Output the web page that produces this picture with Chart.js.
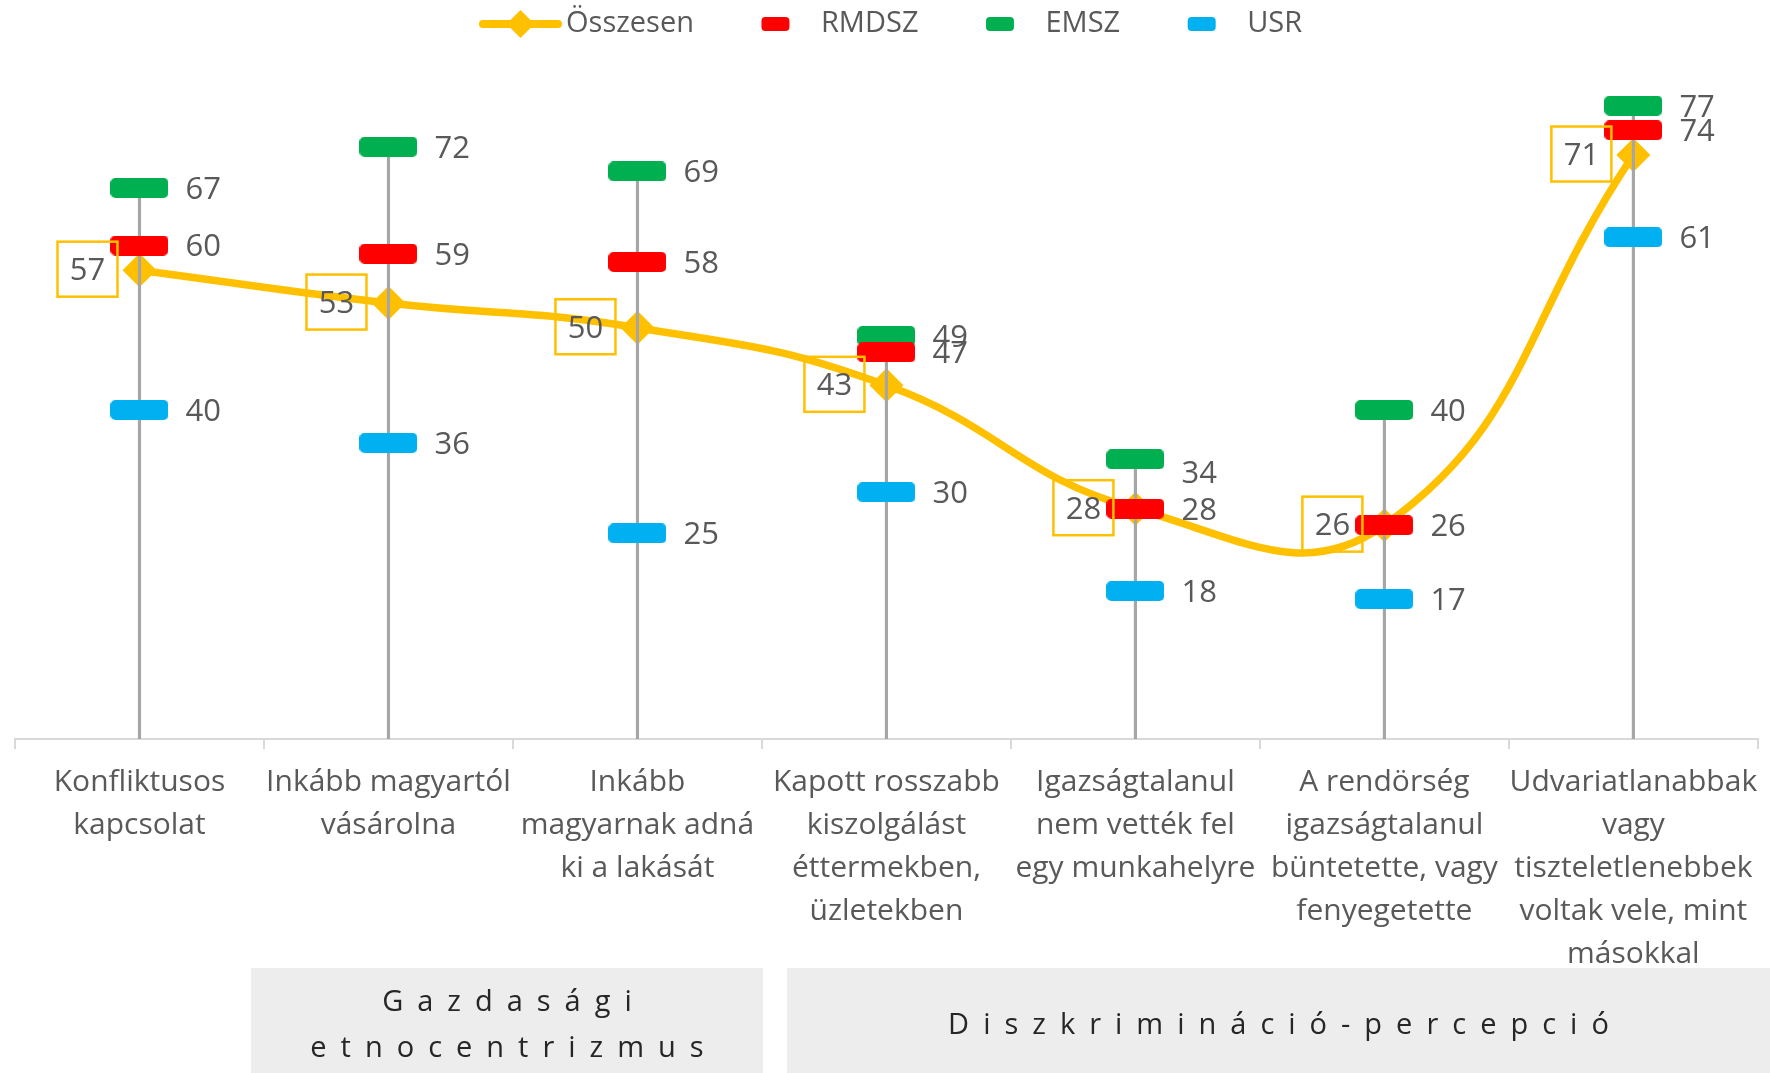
<!DOCTYPE html>
<html>
<head>
<meta charset="utf-8">
<script src="https://cdn.jsdelivr.net/npm/chart.js@4.4.1/dist/chart.umd.min.js"></script>
<style>
  html, body { margin: 0; padding: 0; background: #ffffff; }
  #wrap { width: 1770px; height: 1073px; position: relative; }
</style>
</head>
<body>
<div id="wrap"><canvas id="chart" width="1770" height="1073"></canvas></div>
<script>
// Categories (multi-line axis labels)
const categories = [
  ["Konfliktusos", "kapcsolat"],
  ["Inkább magyartól", "vásárolna"],
  ["Inkább", "magyarnak adná", "ki a lakását"],
  ["Kapott rosszabb", "kiszolgálást", "éttermekben,", "üzletekben"],
  ["Igazságtalanul", "nem vették fel", "egy munkahelyre"],
  ["A rendörség", "igazságtalanul", "büntetette, vagy", "fenyegetette"],
  ["Udvariatlanabbak", "vagy", "tiszteletlenebbek", "voltak vele, mint", "másokkal"]
];

// Series values (%)
const osszesen = [57, 53, 50, 43, 28, 26, 71];
const rmdsz    = [60, 59, 58, 47, 28, 26, 74];
const emsz     = [67, 72, 69, 49, 34, 40, 77];
const usr      = [40, 36, 25, 30, 18, 17, 61];

const seriesNames = ["Összesen", "RMDSZ", "EMSZ", "USR"];

// Category groups shown under the axis: [first index, last index, lines]
const groupNames = [
  { from: 1, to: 2, lines: ["Gazdasági", "etnocentrizmus"] },
  { from: 3, to: 6, lines: ["Diszkrimináció-percepció"] }
];

const COLORS = {
  total: "#FFC000",
  rmdsz: "#FF0000",
  emsz: "#00B050",
  usr: "#00B0F0",
  stem: "#A6A6A6",
  text: "#595959",
  axis: "#D9D9D9",
  groupFill: "#EDEDED",
  groupText: "#262626"
};
const FONT = "'Open Sans', 'Liberation Sans', sans-serif";

// Vertical stems run from the axis up to the highest mark of each category
const stemTops = categories.map((_, i) => Math.max(osszesen[i], rmdsz[i], emsz[i], usr[i]));

// Rounded dash marker used by the party series
function dashMarker(color, w, h, r) {
  const c = document.createElement("canvas");
  c.width = w; c.height = h;
  const g = c.getContext("2d");
  g.fillStyle = color;
  g.beginPath();
  g.roundRect(0, 0, w, h, r);
  g.fill();
  return c;
}

function markerDataset(label, data, color) {
  return {
    type: "line",
    label: label,
    data: data,
    showLine: false,
    pointStyle: dashMarker(color, 58, 20, 5),
    pointRadius: 10,
    pointHoverRadius: 10,
    backgroundColor: color,
    borderColor: color,
    order: 1
  };
}

// Small vertical nudges for value labels that would collide
const labelNudge = { EMSZ: { 4: 13 } };

const valueLabels = {
  id: "valueLabels",
  afterDatasetsDraw(chart) {
    const ctx = chart.ctx;
    ctx.save();
    ctx.font = "400 31px " + FONT;
    ctx.fillStyle = COLORS.text;
    ctx.textBaseline = "middle";
    chart.data.datasets.forEach((ds, di) => {
      const meta = chart.getDatasetMeta(di);
      if (ds.label === "Összesen") {
        meta.data.forEach((pt, i) => {
          const w = 60, h = 55;
          const right = pt.x - 22;
          const top = pt.y - h / 2 - 1;
          ctx.strokeStyle = COLORS.total;
          ctx.lineWidth = 2.5;
          ctx.strokeRect(right - w, top, w, h);
          ctx.textAlign = "center";
          ctx.fillText(String(ds.data[i]), right - w / 2, pt.y + 1);
        });
      } else if (ds.type === "line") {
        meta.data.forEach((pt, i) => {
          const nudge = (labelNudge[ds.label] && labelNudge[ds.label][i]) || 0;
          ctx.textAlign = "left";
          ctx.fillText(String(ds.data[i]), pt.x + 46, pt.y + 2 + nudge);
        });
      }
    });
    ctx.restore();
  }
};

// Legend across the top
const topLegend = {
  id: "topLegend",
  afterDraw(chart) {
    const ctx = chart.ctx;
    ctx.save();
    ctx.font = "400 29px " + FONT;
    ctx.textBaseline = "middle";
    const y = 24;
    let x = 480;
    const sampleW = 81, gapText = 5, gapItem = 41;
    const colors = [COLORS.total, COLORS.rmdsz, COLORS.emsz, COLORS.usr];
    seriesNames.forEach((name, i) => {
      const cx = x + sampleW / 2;
      if (i === 0) {
        ctx.strokeStyle = colors[0];
        ctx.lineWidth = 8;
        ctx.lineCap = "round";
        ctx.beginPath();
        ctx.moveTo(x + 3, y); ctx.lineTo(x + sampleW - 3, y);
        ctx.stroke();
        ctx.fillStyle = colors[0];
        ctx.beginPath();
        ctx.moveTo(cx, y - 14); ctx.lineTo(cx + 14, y);
        ctx.lineTo(cx, y + 14); ctx.lineTo(cx - 14, y);
        ctx.closePath(); ctx.fill();
      } else {
        ctx.fillStyle = colors[i];
        ctx.beginPath();
        ctx.roundRect(cx - 14, y - 7, 28, 14, 4);
        ctx.fill();
      }
      ctx.fillStyle = COLORS.text;
      ctx.textAlign = "left";
      const tx = x + sampleW + gapText;
      ctx.fillText(name, tx, y);
      x = tx + ctx.measureText(name).width + gapItem;
    });
    ctx.restore();
  }
};

// Shaded group captions under the category labels
const groupBoxes = {
  id: "groupBoxes",
  afterDraw(chart) {
    const ctx = chart.ctx;
    const xs = chart.scales.x;
    const step = (xs.right - xs.left) / categories.length;
    const top = 968;
    const bottom = chart.height;
    ctx.save();
    groupNames.forEach((g, gi) => {
      const left = gi === 0 ? xs.left + step * g.from - 13 : xs.left + step * g.from + 25;
      const right = gi === groupNames.length - 1 ? chart.width : xs.left + step * (g.to + 1) + 1;
      ctx.fillStyle = COLORS.groupFill;
      ctx.fillRect(left, top, right - left, bottom - top);
      ctx.fillStyle = COLORS.groupText;
      ctx.font = "400 29px " + FONT;
      ctx.textAlign = "center";
      ctx.textBaseline = "middle";
      const spacing = 14;
      ctx.letterSpacing = spacing + "px";
      const cx = (left + right) / 2 + spacing / 2;
      const cy = (top + bottom) / 2;
      const lh = 46;
      g.lines.forEach((line, li) => {
        const y = cy + (li - (g.lines.length - 1) / 2) * lh + 5;
        ctx.fillText(line, cx, y);
      });
      ctx.letterSpacing = "0px";
    });
    ctx.restore();
  }
};

new Chart(document.getElementById("chart"), {
  type: "line",
  data: {
    labels: categories,
    datasets: [
      markerDataset("RMDSZ", rmdsz, COLORS.rmdsz),
      markerDataset("EMSZ", emsz, COLORS.emsz),
      markerDataset("USR", usr, COLORS.usr),
      {
        type: "bar",
        label: "stem",
        data: stemTops.map(v => [0, v]),
        backgroundColor: COLORS.stem,
        barThickness: 2.5,
        order: 2
      },
      {
        type: "line",
        label: "Összesen",
        data: osszesen,
        borderColor: COLORS.total,
        backgroundColor: COLORS.total,
        borderWidth: 7.5,
        tension: 0.45,
        pointStyle: "rectRot",
        pointRadius: 17,
        pointBorderWidth: 0,
        fill: false,
        order: 3
      }
    ]
  },
  options: {
    responsive: false,
    animation: false,
    devicePixelRatio: 1,
    layout: { autoPadding: false, padding: { top: 81, left: 15, right: 12, bottom: 0 } },
    plugins: {
      legend: { display: false },
      tooltip: { enabled: false }
    },
    scales: {
      x: {
        type: "category",
        offset: true,
        afterFit(scale) { scale.height = 334; },
        grid: {
          offset: true,
          drawOnChartArea: false,
          drawTicks: true,
          tickLength: 10,
          color: COLORS.axis,
          lineWidth: 2
        },
        border: { display: true, color: COLORS.axis, width: 2 },
        ticks: {
          autoSkip: false,
          maxRotation: 0,
          minRotation: 0,
          padding: 12,
          color: COLORS.text,
          font: { family: FONT, size: 30, weight: "400", lineHeight: 1.433 }
        }
      },
      y: {
        display: false,
        min: 0,
        max: 80
      }
    }
  },
  plugins: [valueLabels, topLegend, groupBoxes]
});
</script>
</body>
</html>
